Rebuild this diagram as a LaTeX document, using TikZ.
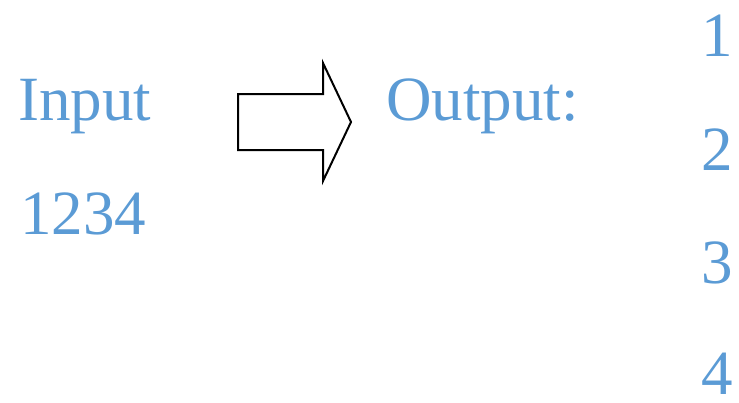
\documentclass[tikz,border=0pt]{standalone}
\usepackage{fontspec}
\setmainfont{Liberation Serif}
\definecolor{txtblue}{HTML}{5B9BD5}
\tikzset{
  label text/.style={inner sep=0pt, text=txtblue, font=\fontsize{63}{63}\selectfont},
  digit/.style={label text, anchor=base east}
}
\begin{document}
\begin{tikzpicture}[x=1pt, y=-1pt]
  \useasboundingbox (0,0) rectangle (739,402);
  \node[label text, anchor=base west] (input) at (18,120) {Input};
  \node[label text, anchor=base west] (number) at (20,234) {1234};
  \draw[black, line width=2pt, line join=miter] (238,94) -- (323,94) -- (323,63) -- (351,122) -- (323,181) -- (323,150) -- (238,150) -- cycle;
  \node[label text, anchor=base west] (output) at (386,120) {Output:};
  \node[digit] (d1) at (733,56) {1};
  \node[digit] (d2) at (733,170) {2};
  \node[digit] (d3) at (733,283) {3};
  \node[digit] (d4) at (733,394) {4};
\end{tikzpicture}
\end{document}
